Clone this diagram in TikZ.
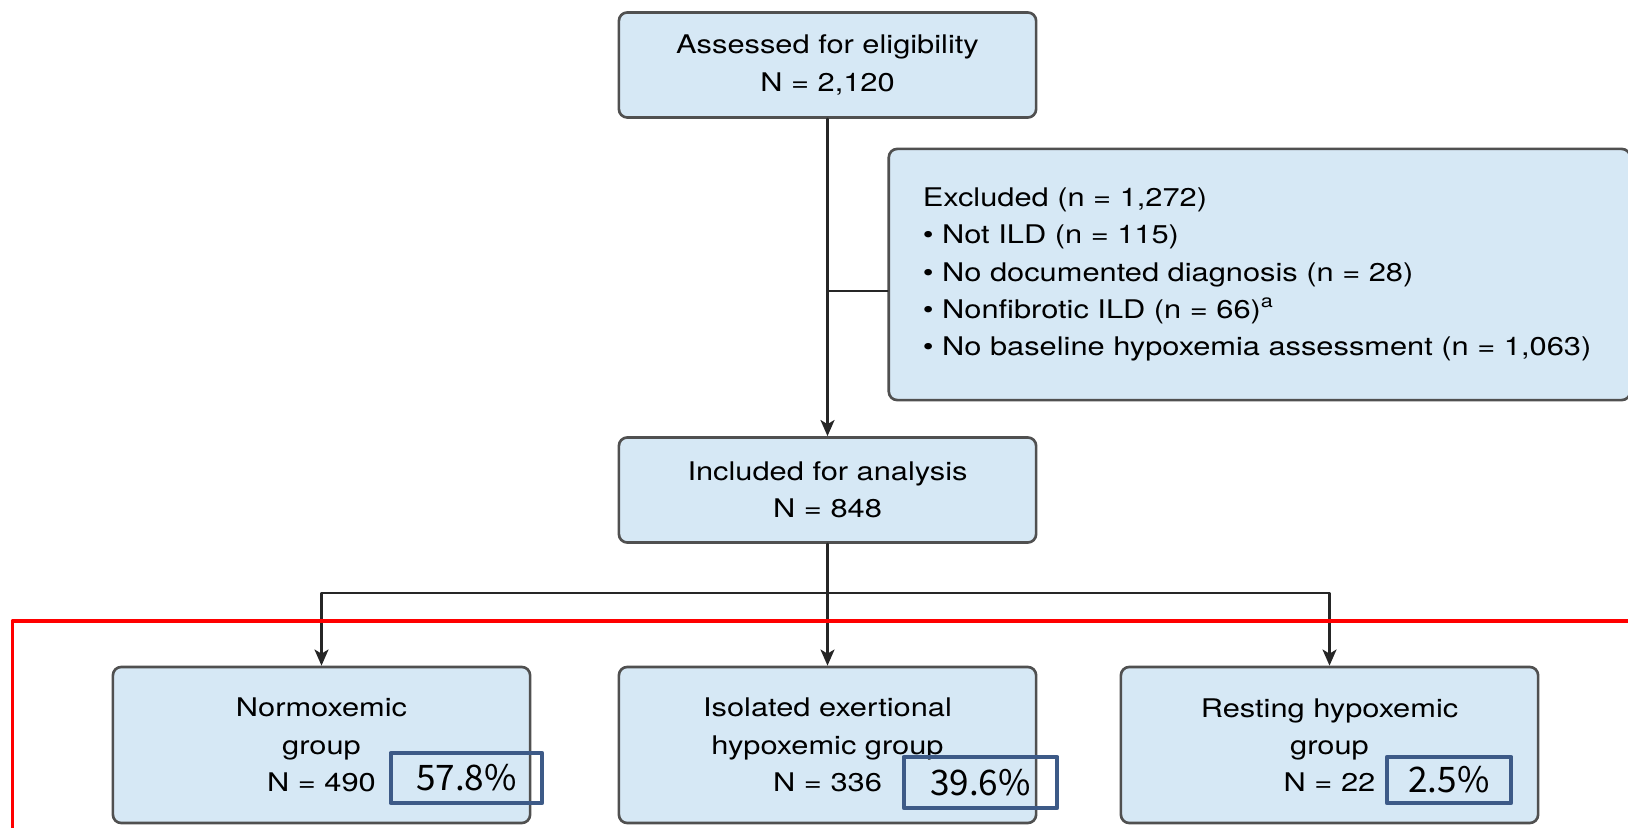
\documentclass[tikz,border=0pt]{standalone}
\usepackage{fontspec}
\setmainfont[FakeStretch=1.2]{TeX Gyre Heros}
\newfontfamily\pctfont{Noto Sans CJK KR}
\usetikzlibrary{arrows.meta}
\definecolor{boxfill}{RGB}{214,232,245}
\definecolor{boxline}{RGB}{80,80,80}
\definecolor{pctline}{RGB}{61,90,135}

\begin{document}
\begin{tikzpicture}[x=0.01cm,y=-0.01cm,line cap=round,line join=round,>={Stealth[length=4.6pt,width=4pt,inset=1.2pt]},
  flowbox/.style={draw=boxline,fill=boxfill,line width=0.75pt,rounded corners=2.4pt,align=center,inner sep=0pt,minimum width=4.17cm,font=\fontsize{7.3}{10.6}\selectfont},
  pctbox/.style={draw=pctline,line width=1.35pt,inner sep=0pt,font=\pctfont\fontsize{10}{12}\selectfont},
  link/.style={draw=black!85,line width=0.65pt}]
\useasboundingbox (0,0) rectangle (1628,828);
\clip (0,0) rectangle (1628,828);
% boxes
\node[flowbox,minimum height=1.05cm] (assess) at (827.5,65) {Assessed for eligibility\\N = 2,120};
\node[flowbox,minimum width=7.41cm,minimum height=2.51cm,text width=6.73cm,align=left] (excl) at (1259.5,274.5) {Excluded (n = 1,272)\\
\textbullet\ Not ILD (n = 115)\\
\textbullet\ No documented diagnosis (n = 28)\\
\textbullet\ Nonfibrotic ILD (n = 66)\textsuperscript{a}\\
\textbullet\ No baseline hypoxemia assessment (n = 1,063)};
\node[flowbox,minimum height=1.05cm] (incl) at (827.5,490) {Included for analysis\\N = 848};
\node[flowbox,minimum height=1.56cm] (normo) at (321.5,745) {Normoxemic\\group\\N = 490};
\node[flowbox,minimum height=1.56cm] (isol) at (827.5,745) {Isolated exertional\\hypoxemic group\\N = 336};
\node[flowbox,minimum height=1.56cm] (resting) at (1329.5,745) {Resting hypoxemic\\group\\N = 22};
% connectors
\coordinate (split) at (827.5,291);
\coordinate (fork) at (827.5,593);
\draw[link,->] (assess.south) -- (incl.north);
\draw[link] (split) -- (split -| excl.west);
\draw[link] (incl.south) -- (fork);
\draw[link,->] (fork) -| (normo.north);
\draw[link,->] (fork) -- (isol.north);
\draw[link,->] (fork) -| (resting.north);
% marks added on top
\draw[red,line width=1.1pt,line cap=butt] (12.5,840) |- (1640,621);
\node[pctbox,minimum width=1.51cm,minimum height=0.5cm] (pnormo) at (466.5,778) {57.8\%};
\node[pctbox,minimum width=1.53cm,minimum height=0.51cm] (pisol) at (980.5,782.5) {39.6\%};
\node[pctbox,minimum width=1.24cm,minimum height=0.46cm] (presting) at (1449,780) {2.5\%};
\end{tikzpicture}
\end{document}
